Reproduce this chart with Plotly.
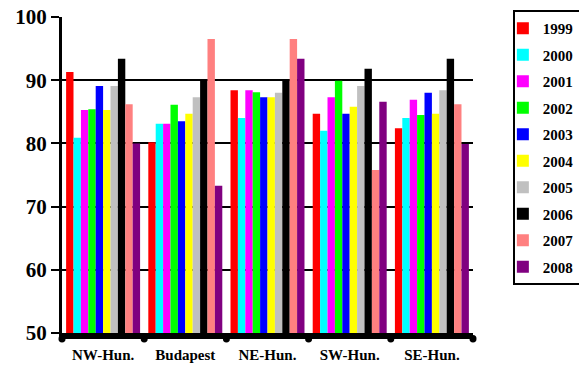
import plotly.graph_objects as go

regions = ["NW-Hun.", "Budapest", "NE-Hun.", "SW-Hun.", "SE-Hun."]
years = ["1999", "2000", "2001", "2002", "2003", "2004", "2005", "2006", "2007", "2008"]
colors = ["#ff0000", "#00ffff", "#ff00ff", "#00ff00", "#0000ff",
          "#ffff00", "#c0c0c0", "#000000", "#ff8080", "#800080"]

# values per year, one entry per region (NW, Budapest, NE, SW, SE)
v1999 = [91.3, 80.2, 88.4, 84.7, 82.4]
v2000 = [80.9, 83.1, 84.0, 82.0, 84.0]
v2001 = [85.3, 83.1, 88.4, 87.3, 86.9]
v2002 = [85.4, 86.1, 88.1, 89.9, 84.5]
v2003 = [89.1, 83.5, 87.3, 84.7, 88.0]
v2004 = [85.3, 84.7, 87.3, 85.8, 84.7]
v2005 = [89.1, 87.3, 88.0, 89.1, 88.4]
v2006 = [93.4, 90.1, 90.1, 91.8, 93.4]
v2007 = [86.2, 96.5, 96.5, 75.8, 86.2]
v2008 = [80.0, 73.3, 93.4, 86.6, 79.9]
series = [v1999, v2000, v2001, v2002, v2003, v2004, v2005, v2006, v2007, v2008]

serif = "Liberation Serif, Times New Roman, serif"

fig = go.Figure()
for yr, col, vals in zip(years, colors, series):
    fig.add_trace(go.Bar(
        x=regions, y=vals, name=yr, legendgroup=yr,
        marker=dict(color=col, line=dict(width=0)),
    ))

# rounded knobs hanging under the category axis at the group boundaries
n = len(regions)
knobs = []
for i in range(n + 1):
    knobs.append(dict(
        type="circle", xref="paper", yref="paper",
        xsizemode="pixel", ysizemode="pixel",
        xanchor=i / n, yanchor=0,
        x0=-3.5, x1=3.5, y0=-9.5, y1=-2,
        fillcolor="black", line=dict(width=0), layer="above",
    ))

fig.update_layout(
    width=579, height=368,
    margin=dict(l=62, r=106, t=17, b=35, autoexpand=False),
    paper_bgcolor="white", plot_bgcolor="white",
    barmode="group", bargap=0.1, bargroupgap=0,
    font=dict(family=serif, color="black"),
    showlegend=True,
    legend=dict(
        x=1.097, y=1.022, xanchor="left", yanchor="top",
        bordercolor="black", borderwidth=2, bgcolor="white",
        font=dict(family=serif, size=15, color="black", weight="bold"),
        tracegroupgap=4, itemwidth=30, indentation=-12,
        maxheight=360,
    ),
    shapes=knobs,
    xaxis=dict(
        range=[-0.5, n - 0.5], automargin=False,
        showline=True, linecolor="black", linewidth=6,
        showgrid=False, zeroline=False,
        ticks="outside", ticklen=3, tickcolor="rgba(0,0,0,0)",
        tickfont=dict(family=serif, size=15, weight="bold"),
    ),
    yaxis=dict(
        range=[50, 100], tick0=50, dtick=10, automargin=False,
        showline=True, linecolor="black", linewidth=3,
        showgrid=True, gridcolor="black", gridwidth=2,
        zeroline=False,
        ticks="outside", ticklen=8, tickwidth=2, tickcolor="black",
        tickfont=dict(family=serif, size=21, weight="bold"),
    ),
)

fig.write_html("out.html")
